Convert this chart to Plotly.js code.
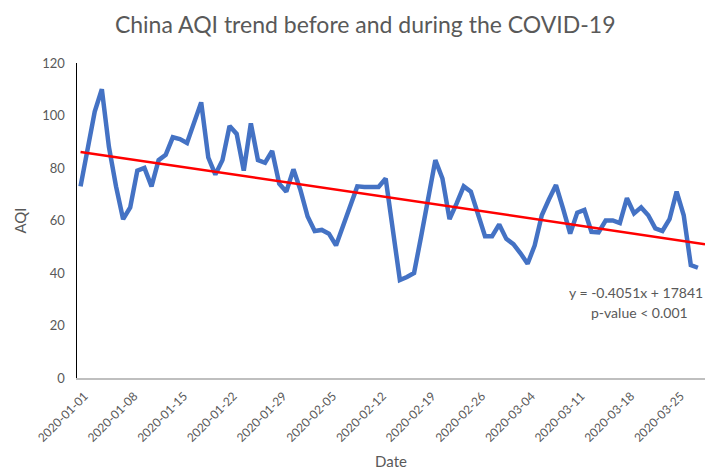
<!DOCTYPE html>
<html>
<head>
<meta charset="utf-8">
<script src="https://cdn.plot.ly/plotly-3.0.1.min.js"></script>
<style>html,body{margin:0;padding:0;background:#fff;}#chart{width:705px;height:470px;}</style>
</head>
<body>
<div id="chart"></div>
<script>
// Daily dates from 2020-01-01 to 2020-03-28
const startDate = '2020-01-01';
const aqiValues = [
  73, 87, 101.5, 110, 88, 73, 60.5, 65, 79, 80,
  73, 83, 85, 91.7, 91, 89.5, 97, 105, 84, 77.5,
  83, 96, 93, 79, 97, 83, 82, 86.5, 74, 71,
  79.5, 71.5, 61.5, 56, 56.4, 55, 50.5, 58, 66, 73,
  72.8, 73, 72.8, 76, 56.5, 37.3, 38.5, 40, 54, 69,
  83, 76, 60.5, 66.5, 73, 71, 63, 54, 54, 58.5,
  53, 51, 47.5, 43.5, 50.5, 62, 68, 73.5, 64.5, 55,
  63, 64, 55.7, 55.5, 60, 60, 59, 68.5, 62.7, 65,
  62, 57, 56, 60.5, 71, 62, 43, 42
];
const tickDates = ['2020-01-01','2020-01-08','2020-01-15','2020-01-22','2020-01-29','2020-02-05','2020-02-12','2020-02-19','2020-02-26','2020-03-04','2020-03-11','2020-03-18','2020-03-25'];
const tickLabels = tickDates.slice();
const equationText = 'y = -0.4051x + 17841';
const pValueText = 'p-value < 0.001';

function addDays(s, n) {
  const d = new Date(s + 'T00:00:00Z');
  d.setUTCDate(d.getUTCDate() + n);
  return d.toISOString().slice(0, 10);
}
const dates = aqiValues.map((_, i) => addDays(startDate, i));

// least-squares fit of the data (day index)
const n = aqiValues.length;
let sx = 0, sy = 0, sxx = 0, sxy = 0;
aqiValues.forEach((v, i) => { sx += i; sy += v; sxx += i * i; sxy += i * v; });
const fitB = (n * sxy - sx * sy) / (n * sxx - sx * sx);
const fitA = (sy - fitB * sx) / n;
const trendDays = [0, 88];
const trendX = trendDays.map(d => addDays(startDate, d));
const trendY = trendDays.map(d => fitA + fitB * d);

const gray = '#595959';
const font = 'Lato, "Open Sans", sans-serif';

const traces = [
  {x: dates, y: aqiValues, type: 'scatter', mode: 'lines',
   line: {color: '#4472C4', width: 4.5}, hoverinfo: 'x+y'},
  {x: trendX, y: trendY, type: 'scatter', mode: 'lines',
   line: {color: '#FF0000', width: 2.5}}
];

const layout = {
  width: 705, height: 470,
  margin: {l: 77, r: 0, t: 63, b: 92},
  paper_bgcolor: '#fff', plot_bgcolor: '#fff',
  showlegend: false,
  font: {family: font, color: gray, size: 13},
  title: {text: 'China AQI trend before and during the COVID-19',
          font: {family: font, size: 23, color: gray},
          x: 0.518, xanchor: 'center', y: 0.947, yanchor: 'middle', yref: 'container'},
  xaxis: {
    type: 'date',
    range: ['2019-12-31 12:00', '2020-03-29 00:00'],
    tickvals: tickDates, ticktext: tickLabels,
    tickangle: -45, tickfont: {size: 12, color: gray},
    ticklabelstandoff: 5, ticklabelshift: 4,
    showgrid: false, zeroline: false,
    showline: true, linecolor: '#BFBFBF', linewidth: 1.5,
    ticks: '', fixedrange: true,
    title: {text: 'Date', font: {size: 15, color: gray}, standoff: 17}
  },
  yaxis: {
    range: [0, 120], dtick: 20, tick0: 0,
    tickfont: {size: 13, color: gray},
    ticklabelstandoff: 8,
    showgrid: false, zeroline: false,
    showline: true, linecolor: '#000', linewidth: 1.5,
    ticks: '', ticklen: 0,
    title: {text: 'AQI', font: {size: 15, color: gray}, standoff: 12}
  },
  annotations: [
    {text: equationText, x: 636, y: 292, xref: 'paper', yref: 'paper', showarrow: false, font: {size: 14, color: gray}},
    {text: pValueText, x: 639, y: 312, xref: 'paper', yref: 'paper', showarrow: false, font: {size: 14, color: gray}}
  ]
};
// convert pixel positions of annotations into paper coordinates
const pw = 705 - 77 - 0, ph = 470 - 63 - 92;
layout.annotations.forEach(a => {
  a.x = (a.x - 77) / pw; a.y = 1 - (a.y - 63) / ph;
  a.xanchor = 'center'; a.yanchor = 'middle';
});

Plotly.newPlot('chart', traces, layout, {staticPlot: true, displayModeBar: false});
</script>
</body>
</html>
